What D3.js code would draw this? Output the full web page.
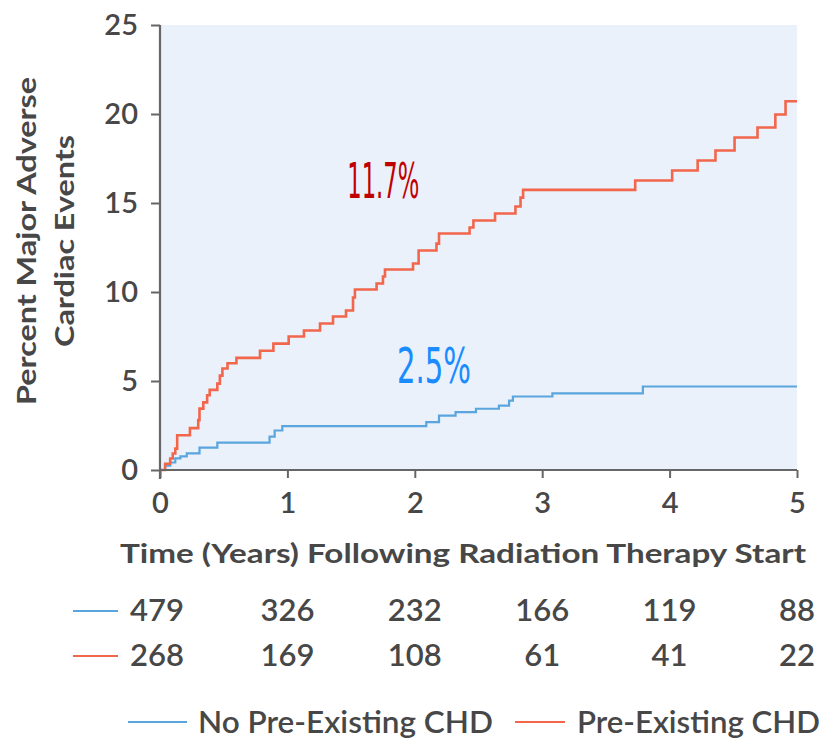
<!DOCTYPE html>
<html>
<head>
<meta charset="utf-8">
<script src="https://cdn.jsdelivr.net/npm/d3@7"></script>
<style>
  html, body { margin: 0; padding: 0; background: #ffffff; }
  svg { display: block; }
</style>
</head>
<body>
<svg id="chart" width="823" height="739"></svg>
<script>
// Cumulative incidence of MACE (%) by years since start of radiation therapy
const noChdSteps = [
  [0, 0], [0.04, 0.25], [0.08, 0.42], [0.12, 0.65], [0.16, 0.76], [0.21, 0.93],
  [0.31, 1.26], [0.45, 1.54], [0.86, 1.88], [0.90, 2.22], [0.96, 2.47],
  [2.09, 2.69], [2.19, 3.06], [2.32, 3.25], [2.48, 3.44], [2.66, 3.62],
  [2.74, 3.90], [2.77, 4.13], [3.08, 4.31], [3.79, 4.69], [5.0, 4.69]
];
const chdSteps = [
  [0, 0], [0.04, 0.35], [0.08, 0.65], [0.10, 0.93], [0.12, 1.2], [0.135, 1.95],
  [0.235, 2.35], [0.30, 2.8], [0.31, 3.45], [0.34, 3.8], [0.37, 4.2], [0.39, 4.5],
  [0.45, 4.85], [0.47, 5.3], [0.49, 5.7], [0.53, 6.0], [0.60, 6.3], [0.785, 6.7],
  [0.89, 7.1], [1.01, 7.5], [1.13, 7.84], [1.256, 8.23], [1.358, 8.62],
  [1.46, 8.96], [1.515, 9.69], [1.53, 10.14], [1.70, 10.48], [1.75, 10.87],
  [1.766, 11.26], [1.986, 11.6], [2.03, 12.33], [2.17, 12.72], [2.19, 13.29],
  [2.43, 13.62], [2.46, 14.02], [2.63, 14.41], [2.79, 14.8], [2.83, 15.3],
  [2.85, 15.74], [3.73, 16.26], [4.02, 16.83], [4.22, 17.39], [4.36, 17.95],
  [4.51, 18.68], [4.69, 19.24], [4.83, 19.97], [4.91, 20.72], [5.0, 20.72]
];
const xTicks = [0, 1, 2, 3, 4, 5];
const yTicks = [0, 5, 10, 15, 20, 25];
const atRiskNoChd = [479, 326, 232, 166, 119, 88];
const atRiskChd = [268, 169, 108, 61, 41, 22];
const seriesNames = ["No Pre-Existing CHD", "Pre-Existing CHD"];
const rateLabels = ["2.5%", "11.7%"];

const blue = "#5aa5dd";
const red = "#f2664c";
const textColor = "#474747";
const axisColor = "#666666";

const svg = d3.select("#chart");
const x = d3.scaleLinear().domain([0, 5]).range([160, 797]);
const y = d3.scaleLinear().domain([0, 25]).range([470, 25]);

// plot panel
svg.append("rect")
  .attr("x", x(0)).attr("y", y(25))
  .attr("width", x(5) - x(0)).attr("height", y(0) - y(25))
  .attr("fill", "#eaf1fa");

// step curves
const line = d3.line()
  .x(d => x(d[0])).y(d => y(d[1]))
  .curve(d3.curveStepAfter);

svg.append("path").datum(noChdSteps)
  .attr("d", line).attr("fill", "none")
  .attr("stroke", blue).attr("stroke-width", 2.2);
svg.append("path").datum(chdSteps)
  .attr("d", line).attr("fill", "none")
  .attr("stroke", red).attr("stroke-width", 2.6);

// axes
const fontFamily = "Lato, 'Open Sans', sans-serif";
const yAxis = svg.append("g")
  .attr("transform", `translate(${x(0)},0)`)
  .call(d3.axisLeft(y).tickValues(yTicks).tickFormat(d3.format("d")).tickSize(9).tickPadding(13));
const xAxis = svg.append("g")
  .attr("transform", `translate(0,${y(0)})`)
  .call(d3.axisBottom(x).tickValues(xTicks).tickFormat(d3.format("d")).tickSize(8).tickPadding(14));

[yAxis, xAxis].forEach(g => {
  g.select(".domain").attr("stroke", axisColor).attr("stroke-width", 2.2);
  g.selectAll(".tick line").attr("stroke", axisColor).attr("stroke-width", 2);
  g.selectAll(".tick text")
    .attr("fill", textColor)
    .style("font-family", fontFamily)
    .style("font-weight", "600")
    .style("font-size", "29px");
});
xAxis.select(".domain").attr("d", `M${x(0)},0H${x(5)}`);
yAxis.select(".domain").attr("d", `M0,${y(25)}V${y(0) + 9}`);

// axis titles
svg.append("text")
  .attr("x", 463).attr("y", 563)
  .attr("text-anchor", "middle")
  .attr("fill", textColor)
  .attr("textLength", 686).attr("lengthAdjust", "spacingAndGlyphs")
  .style("font-family", fontFamily).style("font-weight", "bold").style("font-size", "27px")
  .text("Time (Years) Following Radiation Therapy Start");

const yTitle = svg.append("text")
  .attr("transform", "translate(0,241) rotate(-90)")
  .attr("text-anchor", "middle")
  .attr("fill", textColor)
  .style("font-family", fontFamily).style("font-weight", "bold").style("font-size", "27px");
yTitle.append("tspan").attr("x", 0).attr("y", 36)
  .attr("textLength", 328).attr("lengthAdjust", "spacingAndGlyphs")
  .text("Percent Major Adverse");
yTitle.append("tspan").attr("x", 0).attr("y", 74)
  .attr("textLength", 212).attr("lengthAdjust", "spacingAndGlyphs")
  .text("Cardiac Events");

// rate annotations, placed in data coordinates (years, percent)
const rateSpecs = [
  { t: 1.86, v: 4.9, color: "#1a8cff", width: 74 },
  { t: 1.47, v: 15.3, color: "#c00000", width: 72 }
];
rateLabels.forEach((label, i) => {
  const s = rateSpecs[i];
  svg.append("text")
    .attr("x", x(s.t))
    .attr("y", y(s.v))
    .attr("fill", s.color)
    .attr("textLength", s.width).attr("lengthAdjust", "spacingAndGlyphs")
    .style("font-family", "'DejaVu Sans Condensed', 'DejaVu Sans', sans-serif")
    .style("font-size", "50px")
    .text(label);
});

// number at risk
const riskRows = [
  { values: atRiskNoChd, color: blue, yPos: 621 },
  { values: atRiskChd, color: red, yPos: 666 }
];
riskRows.forEach(r => {
  svg.append("line")
    .attr("x1", 73).attr("x2", 118)
    .attr("y1", r.yPos - 10).attr("y2", r.yPos - 10)
    .attr("stroke", r.color).attr("stroke-width", 2);
  svg.append("g").selectAll("text").data(r.values).join("text")
    .attr("x", (d, i) => x(xTicks[i]) + (i === 0 ? -3 : 0))
    .attr("y", r.yPos)
    .attr("text-anchor", "middle")
    .attr("fill", textColor)
    .style("font-family", fontFamily).style("font-weight", "600").style("font-size", "31px")
    .text(d => d);
});

// legend
const legendItems = [
  { name: seriesNames[0], color: blue, x1: 128, x2: 187, tx: 198, w: 295 },
  { name: seriesNames[1], color: red, x1: 515, x2: 565, tx: 577, w: 243 }
];
legendItems.forEach(l => {
  svg.append("line")
    .attr("x1", l.x1).attr("x2", l.x2)
    .attr("y1", 722).attr("y2", 722)
    .attr("stroke", l.color).attr("stroke-width", 2);
  svg.append("text")
    .attr("x", l.tx).attr("y", 733)
    .attr("fill", textColor)
    .attr("textLength", l.w).attr("lengthAdjust", "spacingAndGlyphs")
    .style("font-family", fontFamily).style("font-weight", "600").style("font-size", "30px")
    .text(l.name);
});
</script>
</body>
</html>
